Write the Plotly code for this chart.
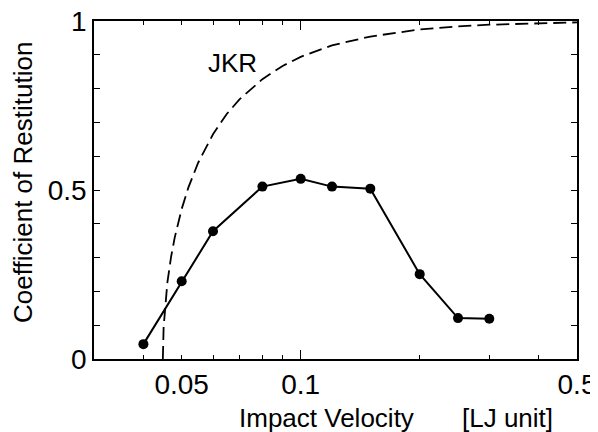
import plotly.graph_objects as go

# Simulation data (impact velocity, coefficient of restitution)
sim_v = [0.040, 0.050, 0.060, 0.080, 0.100, 0.120, 0.150, 0.200, 0.250, 0.300]
sim_e = [0.044, 0.230, 0.378, 0.510, 0.533, 0.510, 0.504, 0.251, 0.121, 0.119]

# JKR theory curve
jkr_v = [0.0448, 0.045, 0.046, 0.047, 0.048, 0.050, 0.052, 0.055, 0.060, 0.065,
         0.070, 0.080, 0.090, 0.100, 0.120, 0.150, 0.200, 0.250, 0.300, 0.400, 0.500]
jkr_e = [0.0, 0.094, 0.227, 0.302, 0.359, 0.444, 0.508, 0.580, 0.665, 0.725,
         0.768, 0.828, 0.867, 0.894, 0.928, 0.954, 0.975, 0.984, 0.989, 0.994, 0.996]

x_tickvals = [0.04, 0.05, 0.06, 0.07, 0.08, 0.09, 0.1, 0.2, 0.3, 0.4, 0.5]
x_ticktext = ["", "0.05", "", "", "", "", "0.1", "", "", "", "0.5"]
y_tickvals = [0, 0.1, 0.2, 0.3, 0.4, 0.5, 0.6, 0.7, 0.8, 0.9, 1.0]
y_ticktext = ["0", "", "", "", "", "0.5", "", "", "", "", "1"]

FONT = "Liberation Sans, Arial, Helvetica, sans-serif"
xr = [-1.5229, -0.30103]

fig = go.Figure()
fig.add_trace(go.Scatter(x=jkr_v, y=jkr_e, mode="lines",
                         line=dict(color="black", width=1.8, dash="13px,6px"),
                         hoverinfo="skip", showlegend=False))
fig.add_trace(go.Scatter(x=sim_v, y=sim_e, mode="lines+markers",
                         line=dict(color="black", width=2),
                         marker=dict(color="black", size=10),
                         showlegend=False))
# invisible trace to activate the overlay axis carrying the long 0.1 tick
fig.add_trace(go.Scatter(x=[0.1], y=[0.5], xaxis="x2", mode="markers",
                         marker=dict(opacity=0), hoverinfo="skip", showlegend=False))

fig.update_layout(
    width=590, height=424,
    margin=dict(l=86, r=21, t=13, b=73),
    paper_bgcolor="white", plot_bgcolor="white",
    font=dict(family=FONT, color="black"),
    xaxis=dict(type="log", range=xr, tickmode="array", tickvals=x_tickvals,
               ticktext=x_ticktext, ticks="inside", ticklen=4, tickwidth=1.3,
               tickcolor="black", showline=True, linecolor="black", linewidth=1.5,
               mirror="ticks", showgrid=False, zeroline=False, automargin=False,
               ticklabeloverflow="allow",
               tickfont=dict(size=28, family=FONT, color="black")),
    xaxis2=dict(type="log", range=xr, overlaying="x", side="bottom",
                tickmode="array", tickvals=[0.1], showticklabels=False,
                ticks="inside", ticklen=9, tickwidth=1.3, tickcolor="black",
                showline=True, linecolor="black", linewidth=1.5, mirror="ticks",
                showgrid=False, zeroline=False, automargin=False),
    yaxis=dict(range=[0, 1], tickmode="array", tickvals=y_tickvals,
               ticktext=y_ticktext, ticks="inside", ticklen=6, tickwidth=1.3,
               tickcolor="black", showline=True, linecolor="black", linewidth=1.5,
               mirror="ticks", showgrid=False, zeroline=False, automargin=False,
               ticklabeloverflow="allow",
               tickfont=dict(size=28, family=FONT, color="black")),
    annotations=[
        dict(text="JKR", xref="paper", yref="paper", x=0.286, y=0.877,
             showarrow=False, font=dict(size=26, family=FONT, color="black"),
             xanchor="center", yanchor="middle"),
        dict(text="Impact Velocity", xref="paper", yref="paper",
             x=(237 - 94) / 483, y=(359 - 418) / 338, showarrow=False,
             xanchor="left", yanchor="middle",
             font=dict(size=26, family=FONT, color="black")),
        dict(text="[LJ unit]", xref="paper", yref="paper",
             x=(460 - 94) / 483, y=(359 - 418) / 338, showarrow=False,
             xanchor="left", yanchor="middle",
             font=dict(size=26, family=FONT, color="black")),
        dict(text="Coefficient of Restitution", xref="paper", yref="paper",
             x=(23 - 94) / 483, y=(359 - 183) / 338, showarrow=False,
             textangle=-90, xanchor="center", yanchor="middle",
             font=dict(size=26, family=FONT, color="black")),
    ],
)

fig.write_html("out.html")
